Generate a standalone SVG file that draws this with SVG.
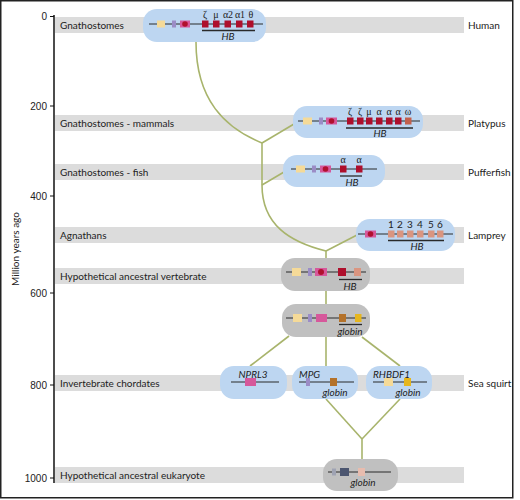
<svg xmlns="http://www.w3.org/2000/svg" width="520" height="500" viewBox="0 0 520 500">
<style>
.band{fill:#dcdcdc}
.lbl{font-family:Lato,"Liberation Sans",sans-serif;font-size:10px;fill:#222}
.tick{font-family:"Liberation Sans",Arial,sans-serif;font-size:10px;fill:#222;text-anchor:end}
.it{font-family:Lato,"Liberation Sans",sans-serif;font-size:10px;font-style:italic;fill:#222;text-anchor:middle}
.itl{font-family:Lato,"Liberation Sans",sans-serif;font-size:10px;font-style:italic;fill:#222}
.gr{font-family:"Liberation Serif","Times New Roman",serif;font-size:10px;fill:#222;text-anchor:middle}
.num{font-family:Lato,"Liberation Sans",sans-serif;font-size:10px;fill:#222;text-anchor:middle}
.blue{fill:#bdd6f1}
.grey{fill:#c0c0c0}
.chr{stroke:#2a2a2a;stroke-width:1.1;fill:none}
.ul{stroke:#2a2a2a;stroke-width:1.3;fill:none}
.yel{fill:#f5da98}
.pur{fill:#9b8cc6}
.pnk{fill:#d6589b}
.dot{fill:#b0102e}
.red{fill:#ae0f2c}
.sal{fill:#da9580}
.ome{fill:#c3604c}
.brn{fill:#b4722a}
.gld{fill:#e6b61e}
.slt{fill:#4c5670}
.gsm{fill:#9fa3b3}
.lsl{fill:#e8bcae}
.con{stroke:#a8b46c;stroke-width:1.6;fill:none}
</style>
<rect x="0.75" y="0.75" width="512" height="497" fill="#fff" stroke="#222" stroke-width="1.5"/>
<g id="bands">
<rect class="band" x="55" y="17" width="409" height="16"/>
<rect class="band" x="55" y="115" width="409" height="16"/>
<rect class="band" x="55" y="164" width="409" height="16"/>
<rect class="band" x="55" y="227" width="409" height="16"/>
<rect class="band" x="55" y="268" width="409" height="16"/>
<rect class="band" x="55" y="375" width="409" height="16"/>
<rect class="band" x="55" y="467" width="409" height="16"/>
</g>
<g id="axis">
<line x1="54" y1="15" x2="54" y2="483" stroke="#111" stroke-width="1.5"/>
<g stroke="#111" stroke-width="1">
<line x1="50" y1="16.5" x2="54" y2="16.5"/>
<line x1="50" y1="106" x2="54" y2="106"/>
<line x1="50" y1="196" x2="54" y2="196"/>
<line x1="50" y1="293" x2="54" y2="293"/>
<line x1="50" y1="385" x2="54" y2="385"/>
<line x1="50" y1="478" x2="54" y2="478"/>
</g>
<text class="tick" x="47" y="20">0</text>
<text class="tick" x="47" y="109.5">200</text>
<text class="tick" x="47" y="199.5">400</text>
<text class="tick" x="47" y="296.5">600</text>
<text class="tick" x="47" y="388.5">800</text>
<text class="tick" x="47" y="481.5">1000</text>
<text class="lbl" transform="translate(18.5,249) rotate(-90)" text-anchor="middle">Million years ago</text>
</g>
<g id="labels">
<text class="lbl" x="60" y="28.5">Gnathostomes</text>
<text class="lbl" x="60" y="126.5">Gnathostomes - mammals</text>
<text class="lbl" x="60" y="175.5">Gnathostomes - fish</text>
<text class="lbl" x="60" y="238.5">Agnathans</text>
<text class="lbl" x="60" y="279.5">Hypothetical ancestral vertebrate</text>
<text class="lbl" x="60" y="386.5">Invertebrate chordates</text>
<text class="lbl" x="60" y="478.5">Hypothetical ancestral eukaryote</text>
<text class="lbl" x="468" y="28.5">Human</text>
<text class="lbl" x="468" y="126.5">Platypus</text>
<text class="lbl" x="468" y="175.5">Pufferfish</text>
<text class="lbl" x="468" y="238.5">Lamprey</text>
<text class="lbl" x="468" y="386.5">Sea squirt</text>
</g>
<g id="connectors">
<path class="con" d="M196,42 C196,100 225,128 262,143"/>
<path class="con" d="M262,143 L294,124"/>
<path class="con" d="M262,143 L262,185"/>
<path class="con" d="M262,185 L284,172"/>
<path class="con" d="M262,185 C262,225 290,242 326,251"/>
<path class="con" d="M357,235 L326,251"/>
<path class="con" d="M326,251 L326,258"/>
<path class="con" d="M326,291 L326,304"/>
<path class="con" d="M289,336 L250,366"/>
<path class="con" d="M326,337 L326,366"/>
<path class="con" d="M362,337 L400,366"/>
<path class="con" d="M326,399 L362,439"/>
<path class="con" d="M400,399 L362,439"/>
<path class="con" d="M362,439 L362,459"/>
</g>
<g id="human">
<rect class="blue" x="143" y="9" width="123" height="33" rx="14"/>
<line class="chr" x1="149" y1="24" x2="263" y2="24"/>
<rect class="yel" x="157" y="20.5" width="8" height="7"/>
<rect class="pur" x="172" y="20.5" width="4" height="7"/>
<rect class="pnk" x="180" y="20.5" width="10" height="7"/>
<circle class="dot" cx="185" cy="24" r="2.8"/>
<rect class="red" x="202" y="20.5" width="6.5" height="7"/>
<rect class="red" x="213" y="20.5" width="6.5" height="7"/>
<rect class="red" x="224.5" y="20.5" width="6.5" height="7"/>
<rect class="red" x="236" y="20.5" width="6.5" height="7"/>
<rect class="red" x="247" y="20.5" width="6.5" height="7"/>
<text class="gr" x="205" y="17.5">ζ</text>
<text class="gr" x="216" y="17.5">μ</text>
<text class="gr" x="228" y="17.5">α2</text>
<text class="gr" x="240" y="17.5">α1</text>
<text class="gr" x="251" y="17.5">θ</text>
<line class="ul" x1="202" y1="30.5" x2="255" y2="30.5"/>
<text class="it" x="228" y="40">HB</text>
</g>
<g id="platypus">
<rect class="blue" x="293" y="106" width="130" height="32" rx="14"/>
<line class="chr" x1="298" y1="121" x2="420" y2="121"/>
<rect class="yel" x="303" y="117.5" width="9" height="7"/>
<rect class="pur" x="319" y="117.5" width="4" height="7"/>
<rect class="pnk" x="326" y="117.5" width="11" height="7"/>
<circle class="dot" cx="331.5" cy="121" r="2.8"/>
<rect class="red" x="347" y="117.5" width="6.5" height="7"/>
<rect class="red" x="357" y="117.5" width="6.5" height="7"/>
<rect class="red" x="366" y="117.5" width="6.5" height="7"/>
<rect class="red" x="376" y="117.5" width="6.5" height="7"/>
<rect class="red" x="386" y="117.5" width="6.5" height="7"/>
<rect class="red" x="395" y="117.5" width="6.5" height="7"/>
<rect class="ome" x="405" y="117.5" width="6.5" height="7"/>
<text class="gr" x="350" y="115">ζ</text>
<text class="gr" x="360" y="115">ζ</text>
<text class="gr" x="369" y="115">μ</text>
<text class="gr" x="379" y="115">α</text>
<text class="gr" x="389" y="115">α</text>
<text class="gr" x="398" y="115">α</text>
<text class="gr" x="408" y="115">ω</text>
<line class="ul" x1="346" y1="128" x2="413" y2="128"/>
<text class="it" x="380" y="137">HB</text>
</g>
<g id="pufferfish">
<rect class="blue" x="283" y="155" width="102" height="32" rx="14"/>
<line class="chr" x1="291" y1="169" x2="377" y2="169"/>
<rect class="yel" x="296" y="165.5" width="9" height="7"/>
<rect class="pur" x="312" y="165.5" width="4" height="7"/>
<rect class="pnk" x="320" y="165.5" width="11" height="7"/>
<circle class="dot" cx="325.5" cy="169" r="2.8"/>
<rect class="red" x="340" y="165.5" width="6.5" height="7"/>
<rect class="red" x="356" y="165.5" width="6.5" height="7"/>
<text class="gr" x="343" y="162.5">α</text>
<text class="gr" x="359" y="162.5">α</text>
<line class="ul" x1="340" y1="176" x2="362" y2="176"/>
<text class="it" x="352" y="186">HB</text>
</g>
<g id="lamprey">
<rect class="blue" x="356" y="219" width="99" height="32" rx="14"/>
<line class="chr" x1="358" y1="234" x2="453" y2="234"/>
<rect class="pnk" x="365" y="230.5" width="11" height="7"/>
<circle class="dot" cx="370.5" cy="234" r="2.8"/>
<rect class="sal" x="388" y="230.5" width="6.5" height="7"/>
<rect class="sal" x="397" y="230.5" width="6.5" height="7"/>
<rect class="sal" x="407" y="230.5" width="6.5" height="7"/>
<rect class="sal" x="417" y="230.5" width="6.5" height="7"/>
<rect class="sal" x="428" y="230.5" width="6.5" height="7"/>
<rect class="sal" x="437" y="230.5" width="6.5" height="7"/>
<text class="num" x="391" y="228">1</text>
<text class="num" x="400" y="228">2</text>
<text class="num" x="410" y="228">3</text>
<text class="num" x="420" y="228">4</text>
<text class="num" x="431" y="228">5</text>
<text class="num" x="440" y="228">6</text>
<line class="ul" x1="388" y1="240.5" x2="444" y2="240.5"/>
<text class="it" x="417" y="250">HB</text>
</g>
<g id="ancestral-vertebrate">
<rect class="grey" x="281" y="258" width="89" height="33" rx="14"/>
<line class="chr" x1="286" y1="272" x2="366" y2="272"/>
<rect class="yel" x="292" y="268" width="9" height="8"/>
<rect class="pur" x="308" y="268" width="4" height="8"/>
<rect class="pnk" x="315" y="268" width="12" height="8"/>
<circle class="dot" cx="321" cy="272" r="3"/>
<rect class="red" x="338" y="268" width="8" height="8"/>
<rect class="sal" x="354" y="268" width="7" height="8"/>
<line class="ul" x1="339" y1="279.5" x2="362" y2="279.5"/>
<text class="it" x="350" y="290">HB</text>
</g>
<g id="ancestral-globin">
<rect class="grey" x="282" y="304" width="88" height="33" rx="14"/>
<line class="chr" x1="286" y1="318" x2="366" y2="318"/>
<rect class="yel" x="293" y="314" width="9" height="8"/>
<rect class="pur" x="308" y="314" width="4" height="8"/>
<rect class="pnk" x="316" y="314" width="11" height="8"/>
<rect class="brn" x="339" y="314" width="7" height="8"/>
<rect class="gld" x="355" y="314" width="6.5" height="8"/>
<line class="ul" x1="339" y1="324.5" x2="362" y2="324.5"/>
<text class="it" x="350" y="335">globin</text>
</g>
<g id="nprl3">
<rect class="blue" x="220" y="366" width="67" height="33" rx="14"/>
<text class="it" x="253" y="378">NPRL3</text>
<line class="chr" x1="231" y1="382" x2="279" y2="382"/>
<rect class="pnk" x="245" y="378" width="11" height="8"/>
</g>
<g id="mpg">
<rect class="blue" x="292" y="366" width="66" height="33" rx="14"/>
<text class="itl" x="299" y="378">MPG</text>
<line class="chr" x1="299" y1="382" x2="354" y2="382"/>
<rect class="pur" x="306" y="378" width="4" height="8"/>
<rect class="brn" x="330" y="378" width="7" height="8"/>
<text class="it" x="335" y="396">globin</text>
</g>
<g id="rhbdf1">
<rect class="blue" x="366" y="366" width="66" height="33" rx="14"/>
<text class="itl" x="373" y="378">RHBDF1</text>
<line class="chr" x1="373" y1="382" x2="427" y2="382"/>
<rect class="yel" x="384" y="378" width="9" height="8"/>
<rect class="gld" x="404" y="378" width="7" height="8"/>
<text class="it" x="408" y="396">globin</text>
</g>
<g id="ancestral-eukaryote">
<rect class="grey" x="323" y="459" width="75" height="32" rx="14"/>
<line class="chr" x1="328" y1="472" x2="391" y2="472"/>
<rect class="gsm" x="332" y="468.5" width="4" height="7"/>
<rect class="slt" x="340" y="468" width="9" height="8"/>
<rect class="lsl" x="358" y="468" width="7" height="8"/>
<text class="it" x="363" y="485.5">globin</text>
</g>
</svg>
